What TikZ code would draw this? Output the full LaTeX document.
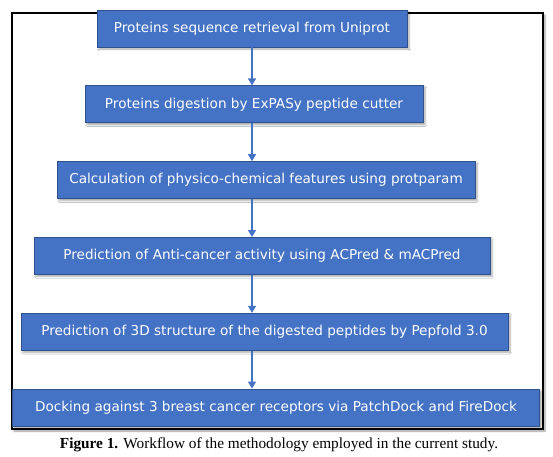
\documentclass[tikz,border=0pt]{standalone}
\usepackage{fontspec}
\setmainfont{Liberation Serif}
\newfontfamily\boxfont{DejaVu Sans}
\usepackage{tikz}
\usetikzlibrary{arrows.meta, positioning, shadows.blur}
\definecolor{stepblue}{RGB}{68,114,196}
\definecolor{stepedge}{RGB}{47,82,143}

\begin{document}
\begin{tikzpicture}[
    x=1pt, y=1pt,
    node distance=38pt,
    stepbox/.style={
        rectangle, draw=stepedge, line width=0.8pt, fill=stepblue,
        text=white, font=\boxfont\fontsize{13.6}{15}\selectfont,
        minimum height=37pt, inner sep=0pt, align=center,
        blur shadow={shadow xshift=2pt, shadow yshift=-2pt, shadow blur steps=4, shadow opacity=35}
    },
    arrow/.style={-{Triangle[width=8pt,length=7pt]}, draw=stepblue, line width=1.2pt},
    frame/.style={draw=black, line width=1.2pt, fill=white,
        blur shadow={shadow xshift=2pt, shadow yshift=-2pt, shadow blur steps=4, shadow opacity=40}},
]

\useasboundingbox (0,0) rectangle (553,-456);
\path[frame] (12,-13) rectangle (543,-429);

\node[stepbox, minimum width=310pt] (uniprot) at (252,-28.5) {Proteins sequence retrieval from Uniprot};
\node[stepbox, minimum width=338pt, below=of uniprot, xshift=2pt] (digest) {Proteins digestion by ExPASy peptide cutter};
\node[stepbox, minimum width=418pt, below=of digest, xshift=12pt] (protparam) {Calculation of physico-chemical features using protparam};
\node[stepbox, minimum width=456pt, below=of protparam, xshift=-4pt] (acpred) {Prediction of Anti-cancer activity using ACPred \& mACPred};
\node[stepbox, minimum width=487pt, below=of acpred, xshift=2.5pt] (pepfold) {Prediction of 3D structure of the digested peptides by Pepfold 3.0};
\node[stepbox, minimum width=527pt, below=of pepfold, xshift=11.5pt] (docking) {Docking against 3 breast cancer receptors via PatchDock and FireDock};

\draw[arrow] (uniprot.south) -- (uniprot.south |- digest.north);
\draw[arrow] (uniprot.south |- digest.south) -- (uniprot.south |- protparam.north);
\draw[arrow] (uniprot.south |- protparam.south) -- (uniprot.south |- acpred.north);
\draw[arrow] (uniprot.south |- acpred.south) -- (uniprot.south |- pepfold.north);
\draw[arrow] (uniprot.south |- pepfold.south) -- (uniprot.south |- docking.north);

\node[font=\fontsize{15.3}{17}\selectfont] (caption) at (279,-445) {\textbf{Figure 1.} Workflow of the methodology employed in the current study.};

\end{tikzpicture}
\end{document}
